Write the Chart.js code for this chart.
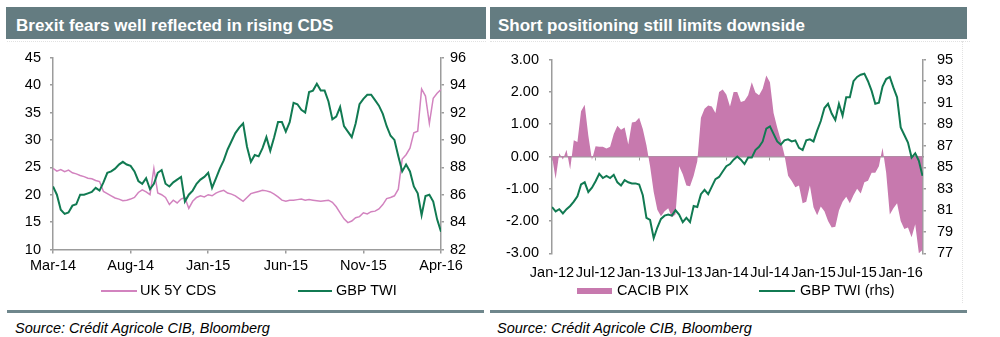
<!DOCTYPE html>
<html>
<head>
<meta charset="utf-8">
<script src="https://cdn.jsdelivr.net/npm/chart.js@4.4.1/dist/chart.umd.min.js"></script>
<style>
  html, body { margin: 0; padding: 0; background: #fff; }
  body { width: 1000px; height: 337px; position: relative; overflow: hidden;
         font-family: "Liberation Sans", Arial, sans-serif; }
  .bar { position: absolute; top: 7px; height: 32px; background: #647c81; color: #fff;
         font-weight: bold; font-size: 17px; line-height: 38px; white-space: nowrap; overflow: hidden; }
  .rule { position: absolute; top: 310px; height: 3px; background: #6f878c; }
  .src { position: absolute; top: 320px; font-size: 14.5px; font-style: italic; line-height: 17px; color: #000; white-space: nowrap; }
  .lg { position: absolute; top: 282px; font-size: 14.5px; line-height: 17px; color: #000; white-space: nowrap; }
  .sw { position: absolute; }
  .faint { position: absolute; border: 0 dotted #e2e2e2; }
  canvas { position: absolute; }
</style>
</head>
<body>

<div class="bar" style="left:6px;width:470px;padding-left:10px;">Brexit fears well reflected in rising CDS</div>
<div class="bar" style="left:490px;width:469px;padding-left:8px;">Short positioning still limits downside</div>

<div class="faint" style="left:7px;top:41px;width:479px;border-top-width:1px;"></div>
<div class="faint" style="left:490px;top:41px;width:480px;border-top-width:1px;"></div>
<div class="faint" style="left:962px;top:41px;height:262px;border-left-width:1px;"></div>

<canvas id="left" width="490" height="240" style="left:0;top:40px;"></canvas>
<canvas id="right" width="480" height="245" style="left:490px;top:40px;"></canvas>

<!-- legends -->
<div class="sw" style="left:101px;top:290px;width:36px;height:1.5px;background:#d283bf;"></div>
<div class="lg" style="left:140px;">UK 5Y CDS</div>
<div class="sw" style="left:298px;top:290px;width:34px;height:1.5px;background:#117a52;"></div>
<div class="lg" style="left:336px;">GBP TWI</div>

<div class="sw" style="left:577px;top:288px;width:35px;height:6px;background:#c779ae;"></div>
<div class="lg" style="left:617px;">CACIB PIX</div>
<div class="sw" style="left:759px;top:290px;width:36px;height:1.5px;background:#117a52;"></div>
<div class="lg" style="left:800px;">GBP TWI (rhs)</div>

<div class="rule" style="left:7px;width:477px;"></div>
<div class="rule" style="left:490px;width:477px;"></div>
<div class="src" style="left:15px;">Source: Crédit Agricole CIB, Bloomberg</div>
<div class="src" style="left:497px;">Source: Crédit Agricole CIB, Bloomberg</div>

<script>
// ---- Left chart: UK 5Y CDS vs GBP TWI, weekly from Mar-14 ----
const LEFT_STEP = 0.25; // months between points
const ukCds = [
  24.8,24.3,24.6,24.2,24.5,24.0,23.8,23.5,23.3,23.0,22.9,22.6,22.4,
  20.6,20.2,19.8,19.4,19.2,18.9,19.0,19.2,19.5,20.4,20.9,20.5,20.0,
  24.8,
  20.3,20.0,19.5,18.2,19.0,18.5,19.2,19.5,17.5,18.8,19.5,19.8,19.6,
  20.0,19.8,20.3,20.6,20.8,20.3,20.1,19.8,19.3,18.8,19.5,20.2,20.4,
  20.6,20.8,20.7,20.5,20.1,19.6,19.0,18.8,19.0,19.0,19.1,19.2,19.0,
  19.1,19.0,18.9,18.8,18.9,19.0,18.6,17.8,16.7,15.6,14.9,15.2,15.8,
  16.0,16.7,16.5,16.9,17.0,17.4,18.2,19.3,19.5,19.8,21.0,26.5,27.3,
  28.5,31.3,31.6,39.3,38.0,33.0,37.6,38.5,39.2
];
const gbpTwiLeft = [
  86.6,86.0,84.9,84.6,84.7,85.2,85.3,86.0,86.0,86.1,86.2,86.5,86.3,
  86.9,87.6,87.7,87.9,88.2,88.4,88.2,88.1,87.7,87.0,86.8,87.2,86.4,
  86.8,87.6,87.8,86.8,86.6,86.9,87.1,87.3,85.5,86.0,86.3,86.8,87.1,
  87.3,87.6,86.5,87.2,87.9,88.5,89.3,89.9,90.5,90.9,91.2,89.5,88.4,
  88.9,88.8,89.4,90.2,89.2,90.2,91.3,91.3,90.6,91.3,92.7,92.6,92.2,
  92.0,93.5,93.6,94.1,93.6,93.6,92.8,91.5,91.7,92.4,91.0,90.6,90.2,
  91.2,92.6,93.0,93.3,93.3,92.9,92.5,91.9,91.0,90.3,90.0,88.8,87.7,
  88.2,87.7,86.6,86.1,84.5,85.9,86.0,85.5,84.2,83.3
];
const leftTickMonths = [0, 5, 10, 15, 20, 25];
const leftTickLabels = ['Mar-14','Aug-14','Jan-15','Jun-15','Nov-15','Apr-16'];

// ---- Right chart: CACIB PIX vs GBP TWI, twice a month from Jan-12 ----
const RIGHT_STEP = 0.5;
const cacibPix = [
  0.0,-0.7,0.1,-0.09,0.21,-0.4,0.5,0.45,1.4,1.6,0.65,-0.1,0.32,0.3,0.3,0.25,0.3,0.7,0.95,0.83,
  0.9,0.37,1.05,1.08,1.2,0.85,0.35,-0.3,-1.1,-1.65,-1.85,-1.7,-1.6,-1.88,-1.8,-0.3,-0.55,-0.9,-0.92,-0.6,
  -0.15,1.2,1.48,1.58,1.55,1.35,2.0,2.08,1.92,1.55,2.0,2.0,1.69,1.73,1.9,2.3,1.98,1.9,2.1,2.51,
  2.3,1.35,0.9,0.5,0.05,-0.6,-0.76,-0.95,-0.9,-1.45,-1.4,-0.9,-1.57,-1.82,-1.55,-1.7,-2.0,-2.2,-2.18,-1.67,
  -1.4,-1.25,-1.45,-1.2,-1.0,-1.15,-0.8,-0.75,-0.5,-0.5,-0.3,0.27,-0.5,-1.8,-1.6,-1.45,-2.0,-2.25,-2.2,-2.5,
  -2.1,-3.0,-2.9
];
const gbpTwiRight = [
  81.3,80.9,81.1,80.7,81.1,81.4,81.8,82.3,83.4,83.6,82.7,83.1,83.7,84.4,84.0,84.2,84.0,84.3,83.6,83.3,
  83.8,83.6,83.5,83.5,83.4,82.4,80.3,80.1,78.4,79.4,80.2,80.5,80.6,80.5,81.0,80.6,79.9,80.3,79.9,81.4,
  81.3,82.5,82.9,82.5,83.2,83.9,84.1,84.6,85.1,85.3,85.7,86.0,85.7,85.3,85.9,85.9,86.6,86.9,87.4,88.6,
  88.8,88.1,87.4,87.1,87.5,87.6,87.4,87.5,86.8,86.6,87.5,87.6,87.4,88.4,89.3,90.5,90.9,90.0,89.4,90.9,
  89.8,91.5,91.5,93.0,93.4,93.6,93.7,93.0,92.1,90.9,91.0,92.5,93.2,93.4,92.4,91.5,88.7,88.0,87.3,85.9,
  86.3,85.6,84.2
];
const rightTickMonths = [0, 6, 12, 18, 24, 30, 36, 42, 48];
const rightTickLabels = ['Jan-12','Jul-12','Jan-13','Jul-13','Jan-14','Jul-14','Jan-15','Jul-15','Jan-16'];

const PINK = '#d283bf';
const PIX_FILL = '#c779ae';
const GREEN = '#117a52';
const AXIS = '#9c9c9c';
const FONT = { family: '"Liberation Sans", Arial, sans-serif', size: 14.5 };

Chart.defaults.font.family = FONT.family;
Chart.defaults.color = '#000';

const toPoints = (arr, step) => arr.map((v, i) => ({ x: i * step, y: v }));

function yAxis(pos, min, max, step, width, pad, fmt) {
  return {
    type: 'linear', position: pos, min, max,
    afterFit: s => { s.width = width; },
    ticks: { stepSize: step, font: FONT, color: '#000', padding: pad,
             callback: fmt || (v => v) },
    grid: { display: true, drawOnChartArea: false, drawTicks: true, tickLength: 3,
            color: AXIS, lineWidth: 1.5 },
    border: { display: true, color: AXIS, width: 1.5 }
  };
}

const common = {
  responsive: false, animation: false, events: [],
  plugins: { legend: { display: false }, tooltip: { enabled: false } },
  elements: { point: { radius: 0 }, line: { tension: 0 } }
};

new Chart(document.getElementById('left'), {
  type: 'line',
  data: {
    datasets: [
      { label: 'GBP TWI', data: toPoints(gbpTwiLeft, LEFT_STEP), yAxisID: 'y2',
        borderColor: GREEN, borderWidth: 2, fill: false, order: 0 },
      { label: 'UK 5Y CDS', data: toPoints(ukCds, LEFT_STEP), yAxisID: 'y',
        borderColor: PINK, borderWidth: 1.5, fill: false, order: 1 }
    ]
  },
  options: Object.assign({}, common, {
    layout: { padding: { top: 17.3, left: 0, right: 0, bottom: 0 } },
    scales: {
      x: {
        type: 'linear', position: 'bottom', min: 0, max: 25,
        afterBuildTicks: s => { s.ticks = leftTickMonths.map(v => ({ value: v })); },
        afterFit: s => { s.height = 30.5; },
        ticks: { font: FONT, color: '#000', padding: 4, maxRotation: 0, autoSkip: false,
                 callback: (v, i) => leftTickLabels[i] },
        grid: { display: true, drawOnChartArea: false, drawTicks: true, tickLength: 4,
                color: AXIS, lineWidth: 1.5 },
        border: { display: true, color: AXIS, width: 1.5 }
      },
      y: yAxis('left', 10, 45, 5, 53, 9),
      y2: yAxis('right', 82, 96, 2, 49, 6)
    }
  })
});

new Chart(document.getElementById('right'), {
  type: 'line',
  data: {
    datasets: [
      { label: 'GBP TWI (rhs)', data: toPoints(gbpTwiRight, RIGHT_STEP), yAxisID: 'y2',
        borderColor: GREEN, borderWidth: 2, fill: false, order: 0 },
      { label: 'CACIB PIX', data: toPoints(cacibPix, RIGHT_STEP), yAxisID: 'y',
        borderColor: PIX_FILL, borderWidth: 0, backgroundColor: PIX_FILL, fill: 'origin', order: 1 }
    ]
  },
  options: Object.assign({}, common, {
    layout: { padding: { top: 17.3, left: 0, right: 0, bottom: 0 } },
    scales: {
      x: {
        type: 'linear', position: 'bottom', min: 0, max: 51.07,
        afterBuildTicks: s => { s.ticks = rightTickMonths.map(v => ({ value: v })); },
        afterFit: s => { s.height = 31.7; },
        ticks: { font: FONT, color: '#000', padding: 10.5, maxRotation: 0, autoSkip: false,
                 callback: (v, i) => rightTickLabels[i] },
        grid: { display: false, drawTicks: false, tickLength: 0 },
        border: { display: false }
      },
      // category line crossing at zero
      xz: {
        type: 'linear', axis: 'x', position: { y: 0 }, min: 0, max: 51.07, z: 1,
        afterBuildTicks: s => { s.ticks = rightTickMonths.map(v => ({ value: v })); },
        afterFit: s => { s.height = 0; },
        ticks: { display: false },
        grid: { display: true, drawOnChartArea: false, drawTicks: true, tickLength: 3,
                color: AXIS, lineWidth: 1 },
        border: { display: true, color: AXIS, width: 1.5 }
      },
      y: yAxis('left', -3, 3, 1, 62, 10, v => v.toFixed(2)),
      y2: yAxis('right', 77, 95, 2, 47, 11)
    }
  })
});
</script>
</body>
</html>
